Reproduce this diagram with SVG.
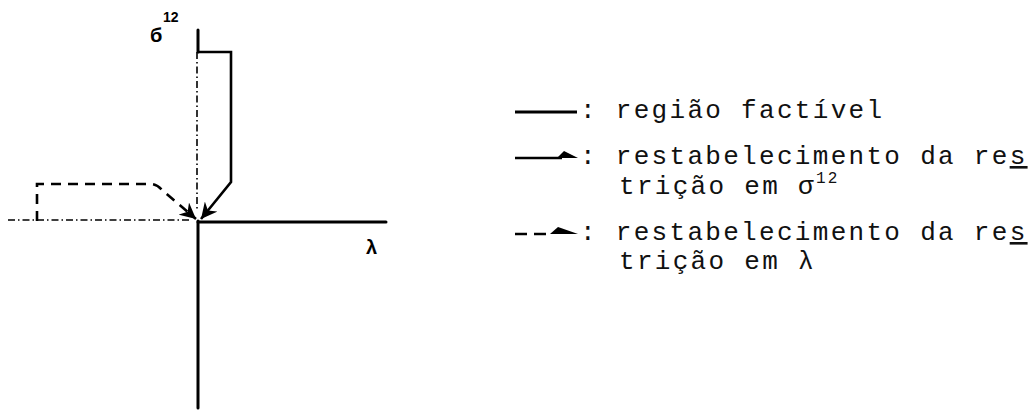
<svg xmlns="http://www.w3.org/2000/svg" width="1033" height="412" viewBox="0 0 1033 412">
<style>
.axis{stroke:#000;stroke-width:3;fill:none;stroke-linecap:round}
.thin{stroke:#000;stroke-width:1.6;fill:none;stroke-dasharray:7,3,1.5,3}
.solid{stroke:#000;stroke-width:2.6;fill:none;stroke-linejoin:miter}
.dash{stroke:#000;stroke-width:2.6;fill:none;stroke-dasharray:10,7}
.lbl{font-family:"Liberation Sans",Arial,sans-serif;font-weight:bold;fill:#000}
.leg{font-family:"Liberation Mono","DejaVu Sans Mono",monospace;font-size:26px;letter-spacing:2.3px;fill:#111}
</style>
<defs>
<marker id="ah" markerUnits="userSpaceOnUse" markerWidth="18" markerHeight="16" refX="16" refY="8" orient="auto">
<path d="M0,0 L16,8 L0,16 L5,8 z" fill="#000"/>
</marker>
</defs>
<g id="axes">
<line class="axis" x1="198" y1="30" x2="198" y2="52" stroke-width="3.5"/>
<line class="thin" x1="197" y1="52" x2="197" y2="210"/>
<line class="axis" x1="198" y1="221" x2="198" y2="408"/>
<line class="axis" x1="198" y1="222" x2="386" y2="222"/>
<line class="thin" x1="8" y1="220" x2="192" y2="220"/>
<text class="lbl" x="150" y="42" font-size="20">б</text>
<text class="lbl" x="163" y="22" font-size="14">12</text>
<text class="lbl" x="366" y="254" font-size="20">λ</text>
</g>
<g id="connectors">
<path class="solid" d="M198,52 H231 V182 L201,219" marker-end="url(#ah)"/>
<path class="dash" d="M37,221 V184 H150 Q157,184 162,190 L196,219" marker-end="url(#ah)"/>
</g>
<g id="legend">
<line x1="515" y1="112" x2="577" y2="112" stroke="#000" stroke-width="3"/>
<text class="leg" x="580" y="118">: região factível</text>
<line x1="515" y1="158" x2="562" y2="158" stroke="#000" stroke-width="2.5"/>
<path d="M557,158 L564,151 L578,158 z" fill="#000"/>
<text class="leg" x="580" y="164">: restabelecimento da re<tspan text-decoration="underline">s</tspan></text>
<text class="leg" x="619" y="194">trição em σ<tspan font-size="16" dy="-11">12</tspan></text>
<line x1="515" y1="234" x2="527" y2="234" stroke="#000" stroke-width="2.5"/>
<line x1="534" y1="234" x2="546" y2="234" stroke="#000" stroke-width="2.5"/>
<path d="M550,234 L558,227 L578,234 z" fill="#000"/>
<text class="leg" x="580" y="240">: restabelecimento da re<tspan text-decoration="underline">s</tspan></text>
<text class="leg" x="619" y="269">trição em λ</text>
</g>
</svg>
